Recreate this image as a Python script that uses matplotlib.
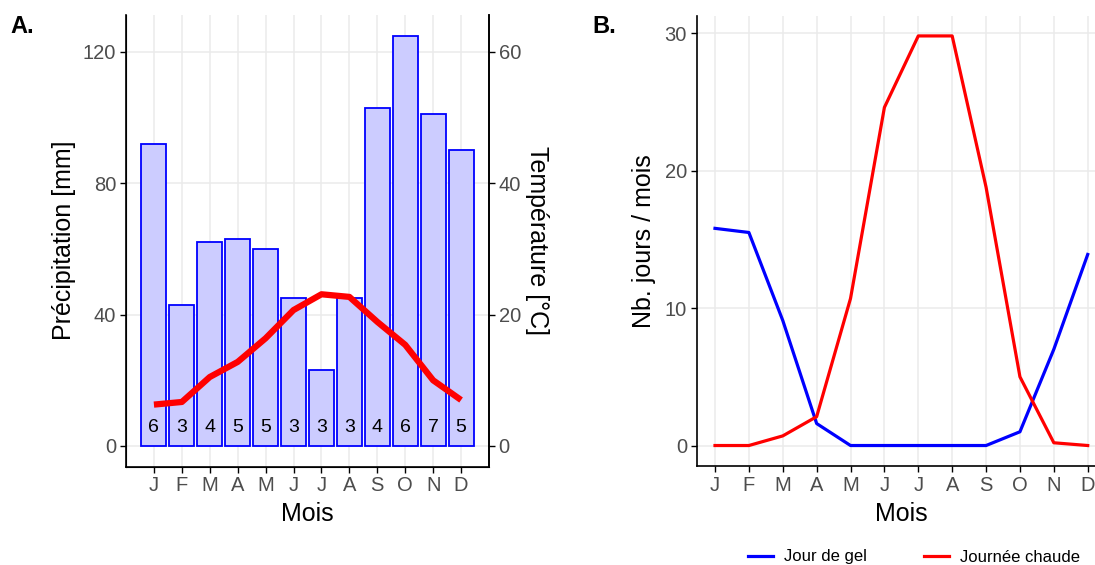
import matplotlib
matplotlib.use("Agg")
import matplotlib.pyplot as plt
import numpy as np
from matplotlib.lines import Line2D

plt.rcParams['font.family'] = ['Liberation Sans', 'DejaVu Sans']

months = ["J", "F", "M", "A", "M", "J", "J", "A", "S", "O", "N", "D"]
precip_mm = [92, 43, 62, 63, 60, 45, 23, 45, 103, 125, 101, 90]
temp_c = [6.3, 6.7, 10.5, 12.8, 16.4, 20.7, 23.1, 22.7, 18.9, 15.4, 10.0, 7.0]
rain_days = [6, 3, 4, 5, 5, 3, 3, 3, 4, 6, 7, 5]
frost_days = [15.8, 15.5, 9.1, 1.6, 0, 0, 0, 0, 0, 1.0, 7.0, 13.9]
hot_days = [0, 0, 0.7, 2.1, 10.7, 24.6, 29.8, 29.8, 18.8, 5.0, 0.2, 0]

W, H = 1095, 565
fig = plt.figure(figsize=(W / 100, H / 100), dpi=100)

grid_c = "#EBEBEB"
tick_c = "#4D4D4D"
TICK_FS = 14.5
TITLE_FS = 18

def fx(px):
    return px / W

def fy(py):
    return 1 - py / H

# ---------- Panel A ----------
axA = fig.add_axes([fx(126), fy(466.5), fx(489 - 126), fy(15) - fy(466.5)])
x = np.arange(1, 13)
axA.set_axisbelow(True)
axA.bar(x, precip_mm, width=0.9, facecolor="#CCCCFF", edgecolor="#0000FF", linewidth=1.3, zorder=2)
axA.plot(x, np.array(temp_c) * 2, color="#FF0000", linewidth=4.5, zorder=3, solid_capstyle="butt")
for xi, d in zip(x, rain_days):
    axA.text(xi, 5.5, str(d), ha="center", va="center", fontsize=14, color="black", zorder=4)
axA.set_xlim(0, 13)
axA.set_ylim(-6.25, 131.25)
axA.set_xticks(x)
axA.set_xticklabels(months)
axA.set_yticks([0, 40, 80, 120])
axA.grid(True, color=grid_c, linewidth=1.1)
for s in ["top"]:
    axA.spines[s].set_visible(False)
for s in ["left", "bottom", "right"]:
    axA.spines[s].set_linewidth(1.2)
axA.tick_params(axis="both", colors="black", labelcolor=tick_c, labelsize=TICK_FS, length=4, width=1.0, pad=3)
axA.set_xlabel("Mois", fontsize=TITLE_FS, labelpad=5)
axA.set_ylabel("Précipitation [mm]", fontsize=TITLE_FS, labelpad=5)

axA2 = axA.twinx()
axA2.set_ylim(-6.25 / 2, 131.25 / 2)
axA2.set_yticks([0, 20, 40, 60])
axA2.spines["top"].set_visible(False)
axA2.spines["right"].set_linewidth(1.2)
axA2.tick_params(axis="y", colors="black", labelcolor=tick_c, labelsize=TICK_FS, length=4, width=1.0, pad=3)
axA2.set_ylabel("Température [°C]", fontsize=TITLE_FS, rotation=-90, labelpad=20)

# ---------- Panel B ----------
axB = fig.add_axes([fx(696.7), fy(466), fx(1106 - 696.7), fy(16) - fy(466)])
axB.set_axisbelow(True)
axB.plot(x, frost_days, color="#0000FF", linewidth=2.3, label="Jour de gel")
axB.plot(x, hot_days, color="#FF0000", linewidth=2.3, label="Journée chaude")
axB.set_xlim(1 - 0.54, 12 + 0.54)
axB.set_ylim(-1.49, 31.25)
axB.set_xticks(x)
axB.set_xticklabels(months)
axB.set_yticks([0, 10, 20, 30])
axB.grid(True, color=grid_c, linewidth=1.1)
for s in ["top", "right"]:
    axB.spines[s].set_visible(False)
for s in ["left", "bottom"]:
    axB.spines[s].set_linewidth(1.2)
axB.tick_params(axis="both", colors="black", labelcolor=tick_c, labelsize=TICK_FS, length=4, width=1.0, pad=3)
axB.set_xlabel("Mois", fontsize=TITLE_FS, labelpad=5)
axB.set_ylabel("Nb. jours / mois", fontsize=TITLE_FS, labelpad=6)

handles = [Line2D([], [], color="#0000FF", linewidth=2.3),
           Line2D([], [], color="#FF0000", linewidth=2.3)]
fig.legend(handles, ["Jour de gel", "Journée chaude"], loc="center",
           bbox_to_anchor=(fx(914), fy(557)), ncol=2, frameon=False,
           fontsize=12, handlelength=1.5, columnspacing=3.4, handletextpad=0.7,
           borderpad=0, borderaxespad=0)

fig.text(fx(10), fy(15), "A.", fontsize=17, fontweight="bold", va="top", ha="left")
fig.text(fx(592), fy(15), "B.", fontsize=17, fontweight="bold", va="top", ha="left")

fig.savefig("out.png", dpi=100)
